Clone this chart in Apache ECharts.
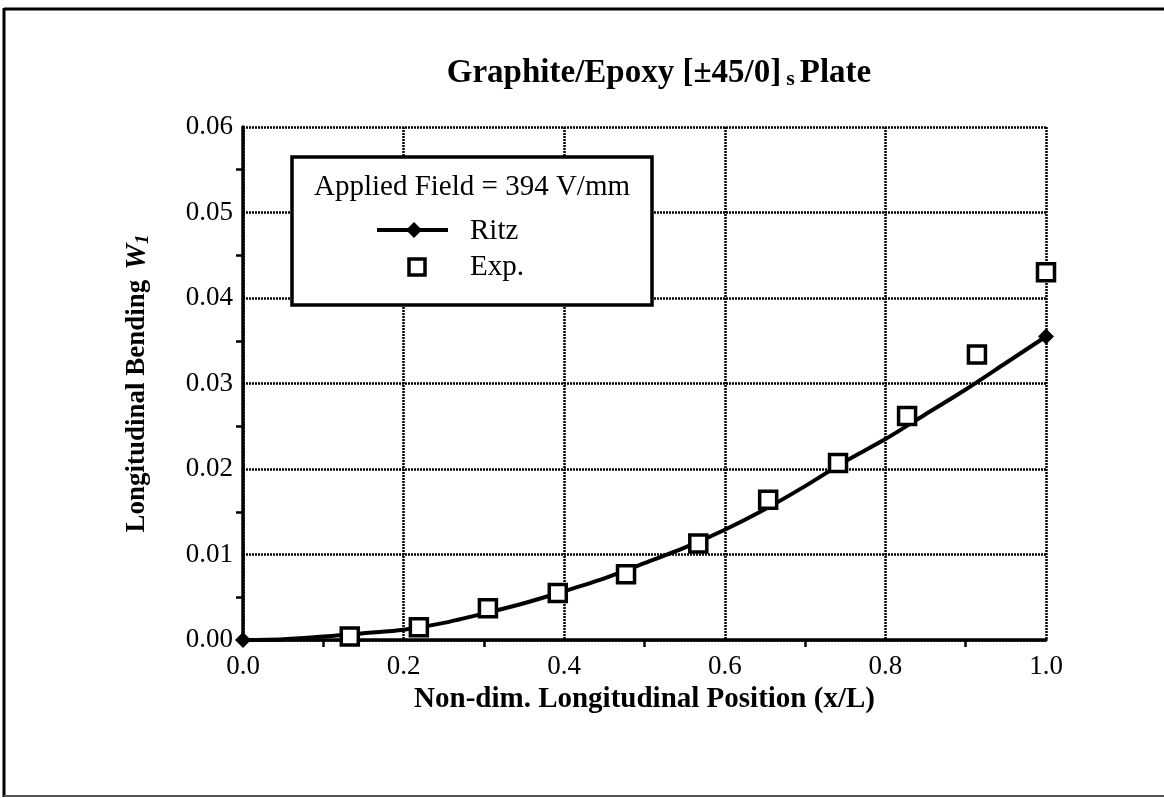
<!DOCTYPE html>
<html><head><meta charset="utf-8">
<script src="https://cdn.jsdelivr.net/npm/echarts@6/dist/echarts.min.js"></script>
<style>html,body{margin:0;padding:0;background:#fff}#c{width:1164px;height:798px}</style>
</head><body><div id="c"></div>
<script>
// Ritz solution (curve)
const ritzX = [0, 0.05, 0.1, 0.15, 0.2, 0.25, 0.3, 0.35, 0.4, 0.45, 0.5, 0.55, 0.6, 0.65, 0.7, 0.75, 0.8, 0.85, 0.9, 0.95, 1.0];
const ritzY = [0, 0.0001, 0.0004, 0.0008, 0.0012, 0.0020, 0.0031, 0.0043, 0.0057, 0.0072, 0.0090, 0.0108, 0.0129, 0.0153, 0.0180, 0.0209, 0.0235, 0.0264, 0.0293, 0.0324, 0.0355];
// Experimental points
const expX = [0.133, 0.219, 0.305, 0.392, 0.477, 0.567, 0.654, 0.741, 0.827, 0.914, 1.0];
const expY = [0.0004, 0.0015, 0.0037, 0.0055, 0.0077, 0.0113, 0.0164, 0.0207, 0.0262, 0.0334, 0.0430];
// Axis ticks
const xTickLabels = ['0.0', '0.2', '0.4', '0.6', '0.8', '1.0'];
const yTickLabels = ['0.00', '0.01', '0.02', '0.03', '0.04', '0.05', '0.06'];

const FONT = '"Liberation Serif", "DejaVu Serif", serif';
const chart = echarts.init(document.getElementById('c'), null, {renderer: 'canvas'});
const gridL = 243, gridR = 1046, gridT = 127, gridB = 640;

const gridLine = {show: true, lineStyle: {color: '#000', width: 2.5, type: [2, 1]}};

chart.setOption({
  backgroundColor: '#fff',
  animation: false,
  title: {
    text: '{t|Graphite/Epoxy [±45/0]} {s|s} {t|Plate}',
    left: 654, top: 52, textAlign: 'center',
    textStyle: {
      rich: {
        t: {fontFamily: FONT, fontWeight: 'bold', fontSize: 33, color: '#000'},
        s: {fontFamily: FONT, fontWeight: 'bold', fontSize: 22, color: '#000', verticalAlign: 'bottom', padding: [10, 0, 0, 0]}
      }
    }
  },
  grid: {left: gridL, right: 1164 - gridR, top: gridT, bottom: 798 - gridB, containLabel: false},
  xAxis: {
    type: 'value', min: 0, max: 1, interval: 0.2,
    axisLine: {show: true, onZero: false, lineStyle: {color: '#000', width: 3.5}},
    axisTick: {show: false},
    minorTick: {show: true, splitNumber: 2, length: 7, lineStyle: {color: '#000', width: 2.5}},
    axisLabel: {margin: 13, fontFamily: FONT, fontSize: 27, color: '#000',
      formatter: v => xTickLabels[Math.round(v / 0.2)]},
    splitLine: gridLine,
    name: 'Non-dim. Longitudinal Position (x/L)', nameLocation: 'middle', nameGap: 44,
    nameTextStyle: {fontFamily: FONT, fontWeight: 'bold', fontSize: 29, color: '#000'},
    z: 5
  },
  yAxis: {
    type: 'value', min: 0, max: 0.06, interval: 0.01,
    axisLine: {show: true, onZero: false, lineStyle: {color: '#000', width: 3.5}},
    axisTick: {show: false},
    minorTick: {show: true, splitNumber: 2, length: 7, lineStyle: {color: '#000', width: 2.5}},
    axisLabel: {margin: 10, fontFamily: FONT, fontSize: 27, color: '#000',
      formatter: v => yTickLabels[Math.round(v / 0.01)]},
    splitLine: gridLine,
    name: '{b|Longitudinal Bending}   {w|W}{sub|1}', nameLocation: 'middle', nameRotate: 90, nameGap: 90,
    nameTextStyle: {
      rich: {
        b: {fontFamily: FONT, fontWeight: 'bold', fontSize: 27, color: '#000'},
        w: {fontFamily: FONT, fontWeight: 'bold', fontStyle: 'italic', fontSize: 29, color: '#000'},
        sub: {fontFamily: FONT, fontWeight: 'bold', fontStyle: 'italic', fontSize: 19, color: '#000', verticalAlign: 'bottom', padding: [12, 0, 0, 0]}
      }
    },
    z: 5
  },
  series: [
    {
      name: 'Ritz', type: 'line', smooth: 0.3,
      data: ritzX.map((x, i) => [x, ritzY[i]]),
      symbol: 'diamond',
      symbolSize: (v, p) => (p.dataIndex === 0 || p.dataIndex === ritzX.length - 1) ? 16 : 0,
      showAllSymbol: true,
      lineStyle: {color: '#000', width: 4},
      itemStyle: {color: '#000', opacity: 1},
      z: 6, clip: false
    },
    {
      name: 'Exp.', type: 'scatter',
      data: expX.map((x, i) => [x, expY[i]]),
      symbol: 'rect', symbolSize: 17,
      itemStyle: {color: '#fff', borderColor: '#000', borderWidth: 3.5, opacity: 1},
      z: 7, clip: false
    }
  ],
  graphic: [
    // outer frame
    {type: 'line', shape: {x1: 4, y1: 9, x2: 1164, y2: 9}, style: {stroke: '#000', lineWidth: 3}, z: 20},
    {type: 'line', shape: {x1: 4, y1: 8, x2: 4, y2: 797}, style: {stroke: '#000', lineWidth: 3}, z: 20},
    {type: 'line', shape: {x1: 4, y1: 796, x2: 1164, y2: 796}, style: {stroke: '#555', lineWidth: 2}, z: 20},
    // legend box
    {type: 'rect', shape: {x: 292, y: 157, width: 360, height: 148}, style: {fill: '#fff', stroke: '#000', lineWidth: 3.5}, z: 30},
    {type: 'text', x: 472, y: 187, style: {text: 'Applied Field = 394 V/mm', fontFamily: FONT, fontSize: 29, fill: '#000', textAlign: 'center', textVerticalAlign: 'middle'}, z: 31},
    {type: 'line', shape: {x1: 377, y1: 230, x2: 448, y2: 230}, style: {stroke: '#000', lineWidth: 4}, z: 31},
    {type: 'polygon', shape: {points: [[414, 222], [422, 230], [414, 238], [406, 230]]}, style: {fill: '#000'}, z: 32},
    {type: 'text', x: 470, y: 231, style: {text: 'Ritz', fontFamily: FONT, fontSize: 29, fill: '#000', textVerticalAlign: 'middle'}, z: 31},
    {type: 'rect', shape: {x: 409, y: 259, width: 16, height: 16}, style: {fill: '#fff', stroke: '#000', lineWidth: 3.5}, z: 31},
    {type: 'text', x: 470, y: 267, style: {text: 'Exp.', fontFamily: FONT, fontSize: 29, fill: '#000', textVerticalAlign: 'middle'}, z: 31}
  ]
});
</script></body></html>
